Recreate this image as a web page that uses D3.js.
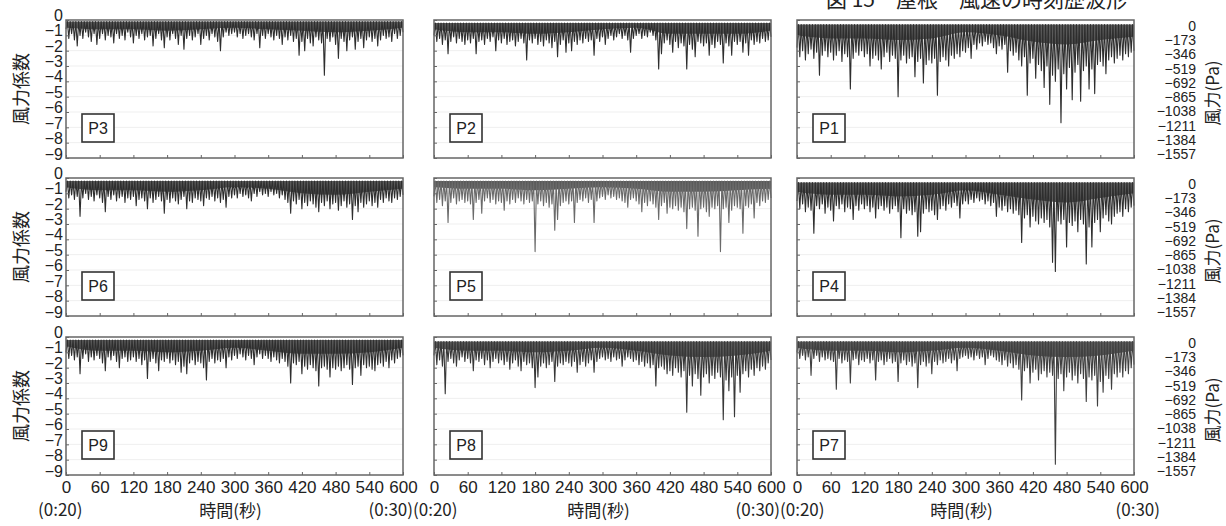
<!DOCTYPE html>
<html lang="ja">
<head>
<meta charset="UTF-8">
<title>風力係数の時刻歴波形</title>
<script src="https://cdnjs.cloudflare.com/ajax/libs/d3/7.8.5/d3.min.js"></script>
<style>
  body { margin: 0; background: #fff; }
  svg text { font-family: "Liberation Sans", Arial, sans-serif; fill: #222; }
  svg text.jp { font-family: "Noto Sans CJK JP", sans-serif; }
</style>
</head>
<body>
<svg width="1226" height="526"></svg>
<script>
"use strict";

// time axis (s), coefficient ticks, pressure ticks (Pa)
const xTicks = [0, 60, 120, 180, 240, 300, 360, 420, 480, 540, 600];
const coefTicks = [0, -1, -2, -3, -4, -5, -6, -7, -8, -9];
const paTicks = [0, -173, -346, -519, -692, -865, -1038, -1211, -1384, -1557];
const step = 5;       // seconds between read-off troughs
const bodyStep = 60;  // seconds between read-off levels of the dense band

const panelNames = ["P3", "P2", "P1", "P6", "P5", "P4", "P9", "P8", "P7"];
// upper edge of the trace, per panel
const bandTop = [-0.1, -0.2, -0.3, -0.2, -0.2, -0.3, -0.2, -0.3, -0.3];

// lower edge of the dense dark band, every 60 s
const body3 = [-0.5, -0.6, -0.6, -0.7, -0.6, -0.5, -0.6, -0.7, -0.8, -0.7, -0.5];
const body2 = [-0.6, -0.8, -0.8, -0.9, -0.8, -0.6, -0.5, -0.9, -0.9, -0.9, -0.7];
const body1 = [-1.0, -1.2, -1.2, -1.3, -1.2, -0.8, -1.0, -1.4, -1.6, -1.3, -1.1];
const body6 = [-0.6, -0.8, -0.8, -0.9, -0.8, -0.6, -0.7, -1.0, -1.1, -0.9, -0.7];
const body5 = [-0.6, -0.7, -0.7, -0.8, -0.7, -0.6, -0.7, -0.9, -0.9, -0.8, -0.7];
const body4 = [-0.9, -1.1, -1.1, -1.2, -1.1, -0.8, -1.1, -1.4, -1.6, -1.3, -1.0];
const body9 = [-0.6, -0.9, -0.9, -1.0, -0.9, -0.7, -0.9, -1.1, -1.1, -1.0, -0.7];
const body8 = [-0.7, -0.9, -0.9, -1.0, -0.9, -0.7, -0.9, -1.2, -1.3, -1.2, -0.9];
const body7 = [-0.7, -0.9, -0.9, -1.0, -0.9, -0.7, -0.9, -1.2, -1.3, -1.2, -0.9];

// troughs of the wind force coefficient, every 5 s from 0 to 600 s
const p3 = [-0.6,-1.2,-0.9,-1.3,-1.7,-1.0,-1.2,-0.8,-1.1,-1.4,-0.9,-1.6,
  -1.2,-0.9,-1.3,-1.0,-1.1,-1.5,-0.9,-1.2,-1.0,-1.3,-0.8,-1.1,
  -1.5,-1.0,-1.2,-0.9,-1.3,-1.1,-1.0,-1.7,-1.2,-0.9,-1.3,-1.8,
  -1.1,-1.3,-0.9,-1.2,-1.6,-1.0,-1.9,-1.2,-1.0,-1.3,-1.1,-0.9,
  -1.6,-1.2,-1.0,-1.3,-0.9,-1.1,-1.4,-2.0,-1.1,-0.8,-1.0,-0.9,
  -0.8,-1.1,-0.9,-1.2,-1.0,-0.9,-1.1,-1.3,-0.9,-1.8,-1.0,-1.2,
  -0.9,-1.1,-1.3,-1.0,-1.2,-1.6,-1.1,-1.3,-1.0,-1.4,-1.2,-2.3,
  -1.4,-2.0,-1.2,-1.5,-1.7,-1.1,-1.3,-1.5,-3.6,-1.2,-1.4,-1.1,
  -1.6,-2.5,-1.2,-1.4,-2.0,-1.3,-1.1,-1.9,-1.4,-1.2,-1.8,-1.3,
  -1.1,-1.4,-1.2,-1.7,-1.3,-1.0,-1.2,-1.1,-1.4,-0.9,-1.2,-1.0,
  -0.8];
const p2 = [-1.0,-1.4,-1.2,-1.6,-1.3,-2.2,-1.4,-1.1,-1.5,-1.2,-1.4,-1.6,
  -1.3,-1.5,-1.2,-2.2,-1.4,-1.3,-1.6,-1.2,-1.4,-1.1,-2.0,-1.3,
  -1.5,-1.2,-1.6,-1.4,-1.3,-1.7,-1.4,-1.2,-1.5,-2.6,-1.3,-1.5,
  -1.2,-1.6,-1.4,-1.7,-1.3,-1.5,-1.8,-1.4,-2.4,-1.6,-1.3,-2.1,
  -1.5,-2.0,-1.4,-1.6,-1.3,-1.5,-1.2,-1.4,-1.3,-2.3,-1.2,-1.4,
  -1.1,-1.6,-1.2,-1.0,-1.3,-1.1,-0.9,-1.2,-1.0,-1.3,-2.1,-1.2,
  -1.0,-0.9,-1.2,-1.0,-1.1,-0.8,-1.0,-1.3,-3.2,-2.2,-1.5,-1.3,
  -1.6,-2.1,-1.4,-1.8,-1.5,-1.7,-3.2,-1.6,-1.9,-2.4,-1.4,-1.5,
  -1.7,-1.5,-2.3,-1.6,-1.8,-1.4,-1.6,-2.8,-1.5,-1.7,-2.3,-1.4,
  -1.6,-1.4,-2.1,-1.5,-2.3,-1.3,-1.6,-1.4,-1.5,-1.2,-1.4,-1.3,
  -1.1];
const p1 = [-1.8,-2.4,-2.0,-2.6,-2.2,-1.9,-2.5,-2.1,-3.6,-2.3,-2.0,-2.4,
  -2.1,-2.6,-2.3,-2.0,-2.7,-2.2,-2.4,-4.5,-2.5,-2.1,-2.3,-2.0,
  -2.4,-2.2,-3.0,-2.5,-2.3,-2.6,-3.2,-2.4,-2.1,-2.7,-2.3,-2.5,
  -5.0,-2.6,-2.3,-2.8,-2.5,-2.4,-3.7,-2.7,-2.5,-4.1,-2.9,-2.6,
  -2.8,-2.5,-4.9,-2.7,-2.4,-2.6,-3.0,-2.3,-2.5,-2.2,-2.4,-2.0,
  -2.1,-1.8,-2.5,-1.6,-1.9,-1.5,-1.7,-1.4,-1.6,-1.5,-1.8,-2.2,
  -1.7,-1.9,-1.6,-3.4,-2.0,-2.3,-2.1,-2.6,-3.0,-2.4,-4.9,-2.8,
  -2.5,-3.8,-2.9,-3.3,-4.4,-3.0,-5.5,-3.6,-4.0,-3.2,-6.7,-3.5,
  -4.5,-3.1,-5.2,-3.4,-2.9,-5.3,-3.3,-3.0,-4.5,-3.2,-4.8,-2.9,
  -2.7,-3.0,-3.5,-2.6,-2.4,-2.8,-2.5,-2.3,-2.6,-2.2,-2.4,-2.1,
  -2.0];
const p6 = [-0.9,-1.3,-1.1,-1.4,-1.2,-2.5,-1.3,-1.0,-1.4,-1.2,-1.5,-1.1,
  -1.3,-1.6,-2.2,-1.2,-1.4,-1.1,-1.5,-1.3,-1.2,-1.6,-1.3,-1.4,
  -1.2,-1.8,-1.4,-1.3,-1.5,-2.0,-1.3,-1.6,-1.4,-1.2,-1.5,-2.3,
  -1.4,-1.6,-1.3,-1.5,-1.7,-1.4,-1.2,-2.0,-1.5,-1.6,-1.3,-1.4,
  -1.5,-1.8,-1.3,-1.4,-1.2,-1.5,-1.3,-1.6,-1.4,-1.9,-1.2,-1.3,
  -1.1,-1.3,-1.0,-1.2,-1.1,-1.3,-1.5,-1.0,-1.2,-0.9,-1.1,-1.0,
  -1.2,-0.9,-1.1,-1.0,-1.3,-1.1,-1.4,-1.6,-2.3,-1.5,-1.7,-1.4,
  -2.0,-1.6,-1.8,-1.5,-1.7,-1.9,-2.2,-1.6,-1.8,-1.5,-2.0,-1.7,
  -1.6,-2.1,-1.8,-1.5,-1.9,-1.7,-2.7,-1.8,-2.2,-1.6,-1.9,-1.7,
  -1.5,-1.8,-1.6,-1.9,-1.4,-1.6,-1.3,-1.5,-1.6,-1.3,-1.4,-1.2,
  -1.1];
const p5 = [-1.2,-1.6,-1.4,-1.8,-1.5,-2.9,-1.6,-1.3,-1.7,-1.5,-1.4,-1.6,
  -1.5,-1.7,-2.7,-1.6,-1.4,-2.3,-1.5,-1.3,-1.6,-1.4,-1.7,-1.5,
  -1.6,-2.1,-1.5,-1.7,-1.4,-1.6,-1.3,-1.5,-1.7,-1.4,-1.6,-1.5,
  -4.8,-1.7,-1.5,-1.8,-1.6,-1.9,-1.7,-3.4,-2.7,-1.8,-1.6,-1.5,
  -1.7,-1.5,-2.9,-1.6,-1.4,-1.5,-1.3,-1.6,-1.4,-2.9,-1.5,-1.3,
  -1.2,-1.4,-1.1,-1.3,-1.2,-1.4,-1.3,-1.5,-1.6,-1.9,-1.4,-1.3,
  -1.5,-1.7,-2.2,-1.6,-1.8,-1.5,-1.7,-1.9,-2.7,-1.8,-1.6,-2.3,
  -1.9,-2.0,-1.8,-2.1,-1.9,-2.2,-3.3,-2.0,-1.9,-2.1,-3.8,-2.0,
  -1.9,-2.2,-2.5,-1.9,-2.0,-1.8,-4.8,-2.0,-1.9,-2.9,-2.1,-1.8,
  -1.9,-2.0,-3.6,-1.8,-1.9,-1.7,-2.6,-1.6,-1.8,-1.5,-1.6,-1.4,
  -1.3];
const p4 = [-1.5,-2.0,-1.7,-2.2,-1.9,-2.1,-3.6,-1.8,-2.0,-1.7,-2.3,-1.9,
  -2.1,-2.8,-1.8,-2.0,-1.7,-2.2,-1.9,-2.0,-2.7,-1.8,-2.1,-1.7,
  -2.0,-1.8,-2.2,-1.9,-2.6,-2.0,-1.8,-2.1,-1.9,-2.3,-2.0,-1.8,
  -2.2,-3.9,-2.0,-2.3,-2.1,-2.4,-2.2,-3.8,-3.5,-2.3,-2.0,-2.2,
  -2.1,-2.4,-2.7,-2.0,-1.8,-2.1,-1.7,-1.9,-1.6,-1.8,-2.6,-1.7,
  -1.5,-1.7,-1.4,-1.6,-1.3,-1.5,-1.4,-1.7,-1.5,-1.8,-1.6,-2.5,
  -1.9,-2.1,-1.8,-2.2,-2.0,-2.3,-2.1,-2.4,-4.2,-2.6,-2.4,-3.2,
  -2.5,-2.8,-3.0,-2.6,-2.9,-2.7,-3.2,-5.5,-6.1,-2.8,-3.0,-2.7,
  -4.5,-2.9,-3.1,-2.8,-3.5,-2.7,-3.0,-5.6,-3.2,-4.5,-2.9,-2.7,
  -3.5,-2.6,-2.4,-2.8,-3.0,-2.5,-2.3,-2.2,-2.5,-2.0,-2.2,-1.9,
  -1.8];
const p9 = [-1.0,-1.4,-1.2,-1.5,-1.3,-2.4,-1.4,-1.1,-1.6,-1.3,-1.5,-1.2,
  -1.4,-1.7,-2.2,-1.3,-1.5,-1.2,-1.6,-2.0,-1.4,-1.3,-1.6,-1.5,
  -1.3,-1.6,-1.4,-1.8,-1.5,-2.7,-1.6,-1.4,-1.7,-2.2,-1.5,-1.6,
  -1.4,-1.7,-1.5,-1.8,-1.6,-2.3,-1.9,-2.4,-1.7,-1.5,-1.8,-1.6,
  -1.7,-2.0,-2.8,-1.6,-1.4,-1.7,-1.5,-1.6,-1.4,-2.0,-1.3,-1.5,
  -1.2,-1.4,-1.1,-1.3,-1.5,-1.2,-1.4,-1.8,-1.3,-1.1,-1.4,-1.2,
  -1.4,-1.6,-1.3,-1.5,-1.7,-1.4,-1.6,-1.9,-3.0,-1.7,-1.8,-1.6,
  -2.4,-1.9,-2.1,-1.8,-2.0,-2.2,-3.2,-2.0,-1.9,-2.1,-2.6,-2.0,
  -2.1,-1.9,-2.2,-2.0,-1.8,-2.1,-3.1,-2.0,-1.9,-2.5,-1.8,-2.0,
  -1.9,-2.1,-2.2,-1.8,-1.7,-1.9,-1.6,-2.0,-1.5,-1.7,-1.4,-1.3,
  -1.2];
const p8 = [-1.2,-1.8,-1.5,-1.9,-3.7,-1.6,-1.4,-1.7,-1.9,-1.5,-1.3,-1.6,
  -1.4,-1.7,-2.2,-1.5,-1.6,-1.4,-1.8,-1.5,-2.0,-1.6,-1.4,-1.7,
  -1.5,-1.8,-1.6,-2.1,-1.7,-1.5,-1.9,-2.2,-1.6,-1.8,-1.7,-2.0,
  -3.3,-2.6,-1.9,-1.7,-2.0,-1.8,-1.6,-2.9,-1.9,-1.7,-1.8,-1.6,
  -1.7,-1.9,-1.6,-2.3,-1.8,-1.6,-1.9,-1.7,-1.5,-2.3,-1.6,-1.4,
  -1.3,-1.5,-1.4,-1.6,-1.3,-1.5,-1.4,-1.9,-1.5,-1.3,-1.4,-1.6,
  -1.5,-1.8,-1.6,-1.9,-1.7,-2.0,-1.8,-3.2,-2.0,-1.9,-2.1,-2.4,
  -2.2,-2.5,-2.0,-2.3,-2.6,-2.2,-4.9,-2.5,-3.2,-2.4,-2.7,-3.8,
  -2.6,-2.4,-3.0,-2.5,-2.7,-2.3,-2.6,-5.4,-2.8,-3.5,-2.6,-5.2,
  -2.5,-3.6,-2.4,-2.2,-2.6,-2.1,-2.5,-2.0,-2.2,-1.9,-2.1,-1.7,
  -1.5];
const p7 = [-1.0,-1.4,-1.2,-1.5,-1.3,-2.5,-1.4,-1.2,-1.6,-1.3,-1.5,-1.4,
  -1.5,-1.6,-3.4,-1.4,-1.7,-1.5,-1.6,-3.0,-1.5,-1.4,-1.8,-1.5,
  -1.6,-1.4,-1.7,-1.5,-2.8,-1.6,-1.5,-1.8,-1.6,-1.4,-1.7,-1.6,
  -2.9,-1.7,-1.5,-1.8,-1.6,-1.9,-1.7,-3.3,-1.8,-1.6,-1.9,-1.7,
  -2.4,-1.6,-1.8,-1.5,-1.7,-1.6,-1.4,-1.7,-1.5,-2.2,-1.4,-1.3,
  -1.2,-1.4,-1.3,-1.5,-1.2,-1.4,-1.3,-1.8,-1.4,-1.2,-1.3,-1.5,
  -1.6,-1.8,-1.5,-1.9,-1.7,-2.0,-1.8,-2.1,-4.1,-2.2,-2.0,-3.0,
  -2.3,-2.1,-2.8,-2.4,-2.2,-2.6,-2.3,-2.5,-8.3,-2.7,-2.4,-3.5,
  -2.6,-2.3,-2.8,-2.5,-3.0,-2.4,-2.7,-4.2,-2.6,-2.8,-2.5,-4.5,
  -2.9,-3.6,-2.5,-2.7,-3.4,-2.4,-2.6,-2.3,-2.6,-2.2,-2.4,-2.0,
  -1.8];
const panelSeries = [p3, p2, p1, p6, p5, p4, p9, p8, p7];
const panelBody = [body3, body2, body1, body6, body5, body4, body9, body8, body7];
const spikeColor = ["#2e2e2e", "#2e2e2e", "#2e2e2e", "#2e2e2e", "#6a6a6a", "#2e2e2e", "#2e2e2e", "#383838", "#404040"];

const svg = d3.select("svg");

// layout of the 3x3 grid
const colX = [66, 434, 797];
const rowY = [20, 178, 337];
const pw = 337, ph = 138;

const x = d3.scaleLinear().domain([0, 600]).range([0, pw]);
const y = d3.scaleLinear().domain([0, -9]).range([0, ph]);
// label scales (the printed labels sit slightly off the tick lines)
const yLabL = d3.scaleLinear().domain([0, -9]).range([-5, ph - 4]);
const yLabR = d3.scaleLinear().domain([0, -1557]).range([6, ph - 4]);

const line = d3.line().x(d => x(d[0])).y(d => y(d[1]));

panelNames.forEach((name, k) => {
    const col = k % 3, row = Math.floor(k / 3);
    const g = svg.append("g").attr("transform", `translate(${colX[col]},${rowY[row]})`);

    // faint grid
    g.selectAll(".grid")
        .data(coefTicks.slice(1, -1))
        .join("line")
        .attr("x1", 0).attr("x2", pw)
        .attr("y1", d => y(d)).attr("y2", d => y(d))
        .attr("stroke", "#efefef").attr("stroke-width", 1);

    const s = panelSeries[k];
    const body = panelBody[k];

    // dense band (smooth lower edge)
    const area = d3.area()
        .curve(d3.curveMonotoneX)
        .x(d => x(d[0]))
        .y0(y(bandTop[k]))
        .y1(d => y(d[1]));
    g.append("path")
        .attr("d", area(body.map((v, i) => [i * bodyStep, v])))
        .attr("fill", "#5a5a5a");

    // spikes: zig-zag between the band top and each read-off trough
    const pts = [];
    s.forEach((v, i) => {
        pts.push([i * step, v]);
        if (i < s.length - 1) pts.push([i * step + step / 2, bandTop[k]]);
    });
    g.append("path")
        .attr("d", line(pts))
        .attr("fill", "none")
        .attr("stroke", spikeColor[k])
        .attr("stroke-width", 1.1)
        .attr("stroke-linejoin", "round");

    // frame
    g.append("rect")
        .attr("width", pw).attr("height", ph)
        .attr("fill", "none").attr("stroke", "#666").attr("stroke-width", 1.5);

    // inner ticks
    const ly = g.append("g").call(d3.axisLeft(y).tickValues(coefTicks).tickSizeInner(-3).tickSizeOuter(0).tickFormat(""));
    ly.select(".domain").remove();
    ly.selectAll("line").attr("stroke", "#666");
    const bx = g.append("g").attr("transform", `translate(0,${ph})`)
        .call(d3.axisBottom(x).tickValues(xTicks).tickSizeInner(-3).tickSizeOuter(0).tickFormat(""));
    bx.select(".domain").remove();
    bx.selectAll("line").attr("stroke", "#666");

    if (col === 0) {
        const la = g.append("g").call(d3.axisLeft(yLabL).tickValues(coefTicks).tickSize(0).tickPadding(3).tickFormat(d3.format("d")));
        la.select(".domain").remove();
        la.selectAll("text").attr("font-size", 16).attr("fill", "#222");
    }
    if (col === 2) {
        const ra = g.append("g").attr("transform", `translate(${pw},0)`)
            .call(d3.axisRight(yLabR).tickValues(paTicks).tickSize(0).tickPadding(0).tickFormat(d3.format("d")));
        ra.select(".domain").remove();
        ra.selectAll("text").attr("font-size", 14).attr("fill", "#222")
            .attr("text-anchor", "end").attr("x", 62);
    }
    if (row === 2) {
        const xa = g.append("g").attr("transform", `translate(0,${ph})`)
            .call(d3.axisBottom(x).tickValues(xTicks).tickSize(0).tickPadding(6));
        xa.select(".domain").remove();
        xa.selectAll("text").attr("font-size", 17).attr("fill", "#222");
    }

    // panel tag
    g.append("rect")
        .attr("x", 16).attr("y", ph - 44)
        .attr("width", 32).attr("height", 28)
        .attr("fill", "#fff").attr("stroke", "#333").attr("stroke-width", 1.6);
    g.append("text")
        .attr("x", 32).attr("y", ph - 24)
        .attr("text-anchor", "middle")
        .attr("font-size", 16)
        .text(name);
});

// axis titles
rowY.forEach(ry => {
    svg.append("text").attr("class", "jp")
        .attr("transform", `translate(28,${ry + ph / 2}) rotate(-90)`)
        .attr("text-anchor", "middle").attr("font-size", 18)
        .text("風力係数");
    svg.append("text").attr("class", "jp")
        .attr("transform", `translate(1219,${ry + ph / 2 + 4}) rotate(-90)`)
        .attr("text-anchor", "middle").attr("font-size", 17)
        .text("風力(Pa)");
});

const startTimeX = [38, 413, 780];
const endTimeX = [413, 780, 1160];
colX.forEach((cx, c) => {
    svg.append("text").attr("class", "jp")
        .attr("x", startTimeX[c]).attr("y", 516)
        .attr("font-size", 17).text("(0:20)");
    svg.append("text").attr("class", "jp")
        .attr("x", cx + pw / 2 - 4).attr("y", 517)
        .attr("text-anchor", "middle").attr("font-size", 17).text("時間(秒)");
    svg.append("text").attr("class", "jp")
        .attr("x", endTimeX[c]).attr("y", 516)
        .attr("text-anchor", "end").attr("font-size", 17).text("(0:30)");
});

// figure caption, cut off at the top edge of the scan
svg.append("text").attr("class", "jp")
    .attr("x", 826).attr("y", 7)
    .attr("font-size", 21).attr("fill", "#333")
    .text("図 15　屋根　風速の時刻歴波形");
</script>
</body>
</html>
